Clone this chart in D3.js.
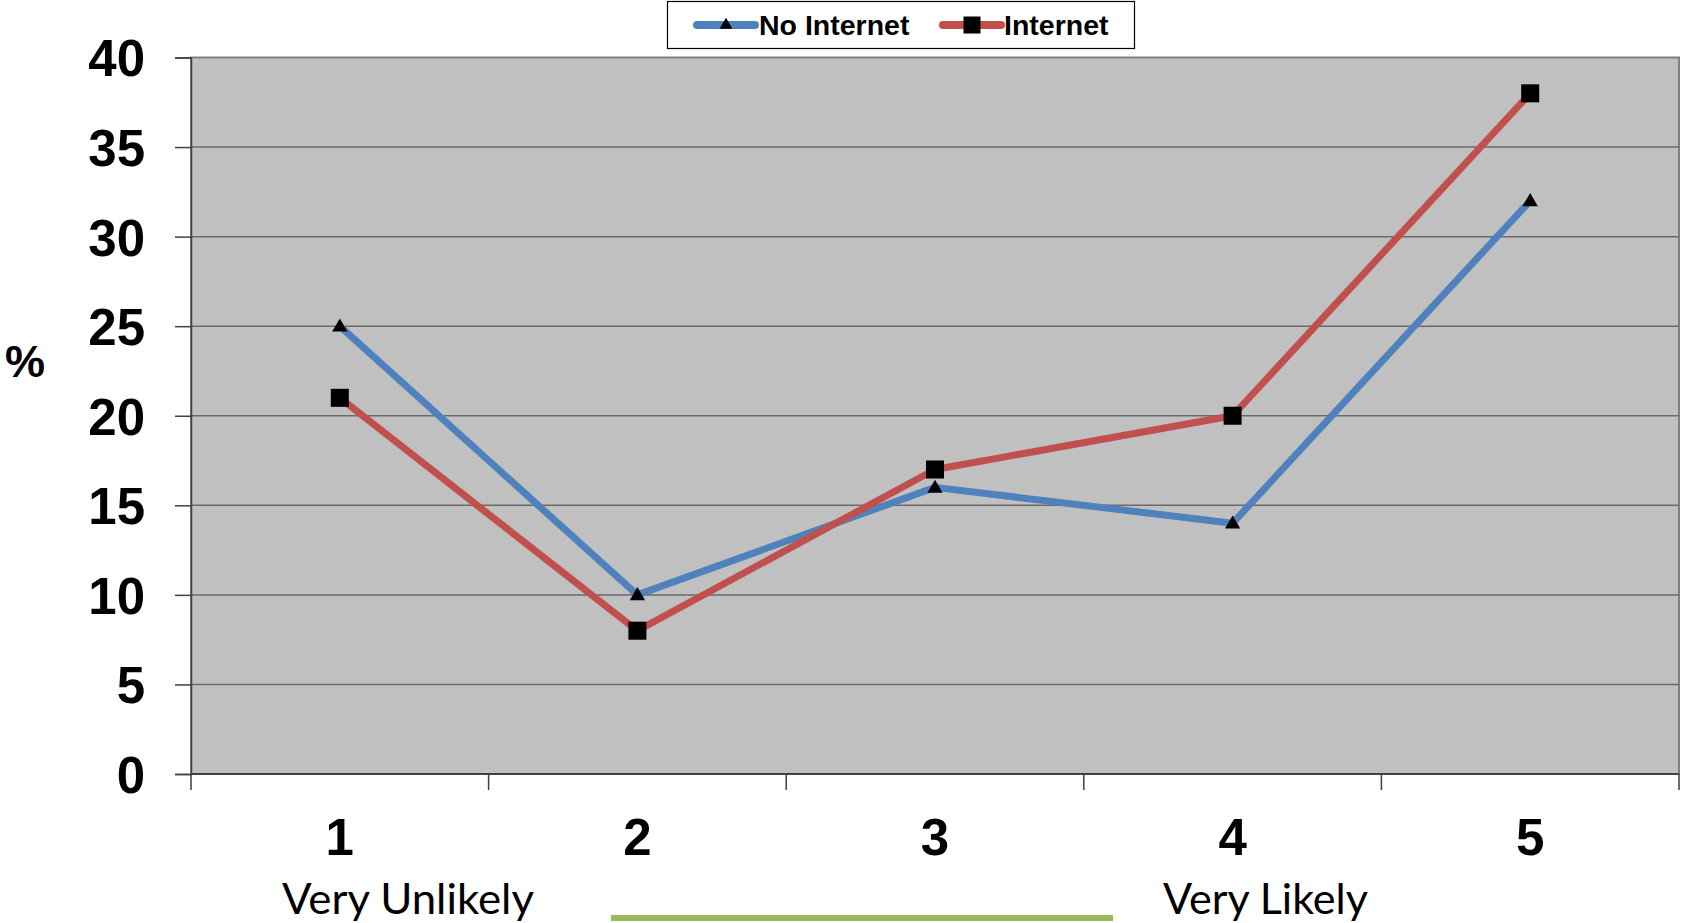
<!DOCTYPE html>
<html>
<head>
<meta charset="utf-8">
<script src="https://cdn.jsdelivr.net/npm/d3@7"></script>
<style>
  html, body { margin: 0; padding: 0; background: #ffffff; }
  svg { display: block; }
</style>
</head>
<body>
<svg id="chart" width="1682" height="923"></svg>
<script>
// Likelihood scale categories and percentage per group
const categories = ["1", "2", "3", "4", "5"];
const noInternet = [25, 10, 16, 14, 32];
const internet   = [21, 8, 17, 20, 38];
const yTicks = [0, 5, 10, 15, 20, 25, 30, 35, 40];
const seriesNames = ["No Internet", "Internet"];

const svg = d3.select("#chart");
const plot = { left: 191, right: 1679, top: 57.5, bottom: 774 };

const x = d3.scaleBand().domain(categories).range([plot.left, plot.right]).padding(0);
const y = d3.scaleLinear().domain([0, 40]).range([plot.bottom, plot.top]);
const cx = c => x(c) + x.bandwidth() / 2;

// plot background
svg.append("rect")
  .attr("x", plot.left).attr("y", plot.top)
  .attr("width", plot.right - plot.left).attr("height", plot.bottom - plot.top)
  .attr("fill", "#c0c0c0")
  .attr("stroke", "#808080").attr("stroke-width", 2);

// horizontal gridlines
svg.append("g").selectAll("line")
  .data(yTicks.filter(t => t > 0 && t < 40))
  .join("line")
  .attr("x1", plot.left).attr("x2", plot.right)
  .attr("y1", d => y(d)).attr("y2", d => y(d))
  .attr("stroke", "#6a6a6a").attr("stroke-width", 1.5);

// y axis
const yAxis = d3.axisLeft(y).tickValues(yTicks).tickSize(16).tickPadding(30).tickFormat(d3.format("d"));
const gy = svg.append("g").attr("transform", `translate(${plot.left},0)`).call(yAxis);
gy.select(".domain").attr("stroke", "#404040").attr("stroke-width", 1.5);
gy.selectAll(".tick line").attr("stroke", "#404040").attr("stroke-width", 1.5);
gy.selectAll(".tick text")
  .attr("font-family", "'Liberation Sans', Arial, sans-serif")
  .attr("font-weight", "bold").attr("font-size", 51).attr("fill", "#000")
  .attr("dy", "0.36em");

// x axis: ticks at category boundaries, labels at centres
const boundaries = categories.map(c => x(c)).concat([x(categories[categories.length - 1]) + x.bandwidth()]);
svg.append("line")
  .attr("x1", plot.left).attr("x2", plot.right)
  .attr("y1", plot.bottom).attr("y2", plot.bottom)
  .attr("stroke", "#404040").attr("stroke-width", 2);
svg.append("g").selectAll("line")
  .data(boundaries).join("line")
  .attr("x1", d => d).attr("x2", d => d)
  .attr("y1", plot.bottom).attr("y2", plot.bottom + 16)
  .attr("stroke", "#404040").attr("stroke-width", 1.5);
svg.append("g").selectAll("text")
  .data(categories).join("text")
  .attr("x", d => cx(d)).attr("y", 855)
  .attr("text-anchor", "middle")
  .attr("font-family", "'Liberation Sans', Arial, sans-serif")
  .attr("font-weight", "bold").attr("font-size", 51)
  .text(d => d);

// y axis title
svg.append("text")
  .attr("x", 25).attr("y", 377)
  .attr("text-anchor", "middle")
  .attr("font-family", "'Liberation Sans', Arial, sans-serif")
  .attr("font-weight", "bold").attr("font-size", 45)
  .text("%");

// scale end descriptions
const ends = [
  { text: "Very Unlikely", x: 282, w: 252 },
  { text: "Very Likely", x: 1163, w: 205 }
];
svg.append("g").selectAll("text")
  .data(ends).join("text")
  .attr("x", d => d.x).attr("y", 914)
  .attr("font-family", "Lato, 'Open Sans', sans-serif")
  .attr("font-size", 43)
  .attr("textLength", d => d.w).attr("lengthAdjust", "spacingAndGlyphs")
  .text(d => d.text);

// green underline between the descriptions
svg.append("line")
  .attr("x1", 611).attr("x2", 1113)
  .attr("y1", 918).attr("y2", 918)
  .attr("stroke", "#9bbb59").attr("stroke-width", 6);

// series lines
const line = d3.line().x((d, i) => cx(categories[i])).y(d => y(d));
svg.append("path").datum(noInternet)
  .attr("d", line).attr("fill", "none")
  .attr("stroke", "#4f81bd").attr("stroke-width", 7).attr("stroke-linejoin", "round");
svg.append("path").datum(internet)
  .attr("d", line).attr("fill", "none")
  .attr("stroke", "#c0504d").attr("stroke-width", 7).attr("stroke-linejoin", "round");

// markers
const tri = d3.symbol().type(d3.symbolTriangle).size(100);
svg.append("g").selectAll("path")
  .data(noInternet).join("path")
  .attr("transform", (d, i) => `translate(${cx(categories[i])},${y(d) + 1})`)
  .attr("d", tri).attr("fill", "#000");
svg.append("g").selectAll("rect")
  .data(internet).join("rect")
  .attr("x", (d, i) => cx(categories[i]) - 9).attr("y", d => y(d) - 9)
  .attr("width", 18).attr("height", 18).attr("fill", "#000");

// legend
const lg = svg.append("g");
lg.append("rect")
  .attr("x", 667.5).attr("y", 1.5).attr("width", 467).attr("height", 47)
  .attr("fill", "#fff").attr("stroke", "#000").attr("stroke-width", 1.2);
const legendItems = [
  { name: seriesNames[0], color: "#4f81bd", x0: 697, marker: "tri", tx: 759 },
  { name: seriesNames[1], color: "#c0504d", x0: 943, marker: "sq", tx: 1004 }
];
legendItems.forEach(it => {
  lg.append("line")
    .attr("x1", it.x0).attr("x2", it.x0 + 58).attr("y1", 25).attr("y2", 25)
    .attr("stroke", it.color).attr("stroke-width", 8).attr("stroke-linecap", "round");
  const mx = it.x0 + 29;
  if (it.marker === "tri") {
    lg.append("path").attr("transform", `translate(${mx},25)`)
      .attr("d", d3.symbol().type(d3.symbolTriangle).size(70)).attr("fill", "#000");
  } else {
    lg.append("rect").attr("x", mx - 8.5).attr("y", 16.5).attr("width", 17).attr("height", 17).attr("fill", "#000");
  }
  lg.append("text")
    .attr("x", it.tx).attr("y", 35)
    .attr("font-family", "'Liberation Sans', Arial, sans-serif")
    .attr("font-weight", "bold").attr("font-size", 28.5)
    .text(it.name);
});
</script>
</body>
</html>
